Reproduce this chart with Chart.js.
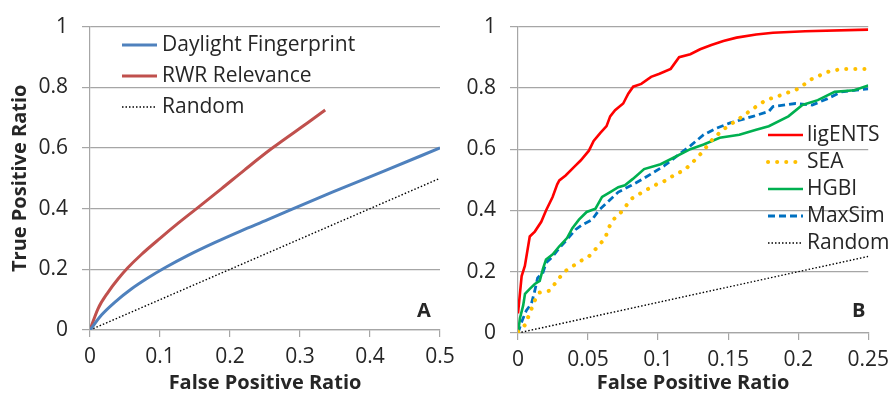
<!DOCTYPE html>
<html><head><meta charset="utf-8">
<script src="https://cdn.jsdelivr.net/npm/chart.js@4"></script>
<style>
html,body{margin:0;padding:0;background:#fff;}
#wrap{position:relative;width:896px;height:396px;overflow:hidden;background:#fff;}
#ca{position:absolute;left:0;top:0;}
#cb{position:absolute;left:450px;top:0;}
</style></head><body>
<div id="wrap">
<canvas id="ca" width="470" height="396"></canvas>
<canvas id="cb" width="446" height="396"></canvas>
</div>
<script>
// ---------- Panel A data ----------
const xTicksA = ['0', '0.1', '0.2', '0.3', '0.4', '0.5'];
const yTicks = ['0', '0.2', '0.4', '0.6', '0.8', '1'];
const daylightX = [0, 0.0167, 0.0357, 0.059, 0.083, 0.107, 0.14, 0.178, 0.216, 0.254, 0.283, 0.347, 0.419, 0.5];
const daylightY = [0, 0.05, 0.092, 0.135, 0.172, 0.205, 0.246, 0.288, 0.327, 0.364, 0.393, 0.455, 0.523, 0.6];
const rwrX = [0, 0.0114, 0.026, 0.04, 0.054, 0.073, 0.1, 0.126, 0.155, 0.188, 0.221, 0.2595, 0.314, 0.336];
const rwrY = [0, 0.07, 0.125, 0.168, 0.205, 0.248, 0.302, 0.352, 0.405, 0.466, 0.528, 0.598, 0.688, 0.725];
const randomAX = [0, 0.5];
const randomAY = [0, 0.5];

// ---------- Panel B data ----------
const xTicksB = ['0', '0.05', '0.1', '0.15', '0.2', '0.25'];
const ligX = [0, 0.0026, 0.0049, 0.0084, 0.012, 0.0166, 0.020, 0.0247, 0.028, 0.0295, 0.034, 0.041, 0.0447, 0.0506, 0.054, 0.0588, 0.0632, 0.0658, 0.0693, 0.0751, 0.0787, 0.0822, 0.088, 0.095, 0.101, 0.109, 0.115, 0.123, 0.130, 0.138, 0.1466, 0.156, 0.17, 0.182, 0.205, 0.25];
const ligY = [0.064, 0.186, 0.219, 0.315, 0.331, 0.363, 0.40, 0.444, 0.485, 0.498, 0.514, 0.546, 0.563, 0.595, 0.627, 0.653, 0.675, 0.707, 0.727, 0.749, 0.781, 0.804, 0.813, 0.836, 0.846, 0.862, 0.90, 0.91, 0.926, 0.94, 0.953, 0.964, 0.974, 0.98, 0.985, 0.99];
const seaX = [0, 0.005, 0.012, 0.0155, 0.0225, 0.0295, 0.034, 0.0447, 0.0506, 0.056, 0.0623, 0.0646, 0.068, 0.0728, 0.081, 0.090, 0.0997, 0.1067, 0.1124, 0.1185, 0.123, 0.128, 0.131, 0.135, 0.1395, 0.1477, 0.158, 0.170, 0.177, 0.1875, 0.200, 0.21, 0.221, 0.231, 0.25];
const seaY = [0.004, 0.026, 0.106, 0.132, 0.138, 0.18, 0.203, 0.235, 0.25, 0.277, 0.31, 0.342, 0.37, 0.39, 0.438, 0.463, 0.487, 0.50, 0.519, 0.53, 0.55, 0.572, 0.588, 0.61, 0.636, 0.668, 0.70, 0.739, 0.76, 0.776, 0.797, 0.83, 0.852, 0.862, 0.862];
const hgbiX = [0, 0.0014, 0.0037, 0.005, 0.0084, 0.012, 0.0155, 0.0178, 0.020, 0.0248, 0.0295, 0.035, 0.0388, 0.0435, 0.049, 0.0553, 0.06, 0.0658, 0.0716, 0.0763, 0.082, 0.090, 0.1018, 0.111, 0.123, 0.1325, 0.144, 0.158, 0.17, 0.179, 0.193, 0.203, 0.214, 0.226, 0.24, 0.25];
const hgbiY = [0, 0.048, 0.09, 0.128, 0.144, 0.16, 0.17, 0.209, 0.24, 0.257, 0.283, 0.31, 0.342, 0.37, 0.395, 0.406, 0.444, 0.46, 0.476, 0.482, 0.503, 0.535, 0.551, 0.572, 0.60, 0.615, 0.637, 0.647, 0.663, 0.675, 0.707, 0.744, 0.76, 0.787, 0.792, 0.808];
const maxX = [0, 0.0026, 0.006, 0.0096, 0.012, 0.014, 0.0178, 0.020, 0.0248, 0.0295, 0.035, 0.041, 0.0458, 0.0529, 0.0576, 0.0646, 0.0716, 0.081, 0.0892, 0.1045, 0.1138, 0.123, 0.1325, 0.142, 0.151, 0.1677, 0.179, 0.182, 0.198, 0.21, 0.221, 0.231, 0.25];
const maxY = [0, 0.036, 0.074, 0.096, 0.138, 0.18, 0.197, 0.229, 0.25, 0.277, 0.305, 0.337, 0.353, 0.37, 0.40, 0.43, 0.46, 0.482, 0.503, 0.546, 0.579, 0.611, 0.647, 0.669, 0.685, 0.707, 0.723, 0.739, 0.749, 0.744, 0.765, 0.787, 0.797];
const randomBX = [0, 0.25];
const randomBY = [0, 0.25];

const FONT = '"Open Sans"';
const TXT = '#262626';
const GRID = '#a6a6a6';
const pts = (xs, ys) => xs.map((x, i) => ({x: x, y: ys[i]}));

const legendPlugin = {
  id: 'customLegend',
  afterDraw(chart, args, o) {
    const ctx = chart.ctx;
    ctx.save();
    ctx.font = o.size + 'px ' + FONT;
    ctx.textBaseline = 'middle';
    ctx.textAlign = 'left';
    chart.data.datasets.forEach((ds, i) => {
      const y = o.y0 + i * o.dy;
      ctx.beginPath();
      ctx.strokeStyle = ds.borderColor;
      ctx.lineWidth = ds.borderWidth;
      ctx.setLineDash(ds.borderDash || []);
      ctx.lineCap = ds.borderCapStyle || 'butt';
      ctx.moveTo(o.x0, y); ctx.lineTo(o.x1, y); ctx.stroke();
      ctx.setLineDash([]);
      ctx.fillStyle = TXT;
      ctx.fillText(ds.label, o.tx, y);
    });
    ctx.font = 'bold 20px ' + FONT;
    ctx.fillStyle = TXT;
    ctx.fillText(o.letter, o.lx, o.ly);
    ctx.restore();
  }
};

function scales(xmin, xmax, step, xlabels, yW, showYTitle) {
  return {
    x: {
      type: 'linear', min: xmin, max: xmax,
      afterFit: s => { s.height = 66; },
      afterBuildTicks: s => { s.ticks = xlabels.map((l, i) => ({value: xmin + i * step})); },
      ticks: { callback: (v, i) => xlabels[i], font: {family: FONT, size: 21}, color: TXT, padding: 7, maxRotation: 0, autoSkip: false },
      grid: { drawOnChartArea: false, drawTicks: true, tickLength: 7, color: GRID, lineWidth: 1.2 },
      border: { display: true, color: GRID, width: 1.2 },
      title: { display: true, text: 'False Positive Ratio', font: {family: FONT, size: 20, weight: 'bold'}, color: TXT, padding: {top: 0, bottom: 1} }
    },
    y: {
      type: 'linear', min: 0, max: 1,
      afterFit: s => { s.width = yW; },
      afterBuildTicks: s => { s.ticks = yTicks.map((l, i) => ({value: i * 0.2})); },
      ticks: { callback: (v, i) => yTicks[i], font: {family: FONT, size: 21}, color: TXT, padding: 14 },
      grid: { drawOnChartArea: true, drawTicks: true, tickLength: 8, color: GRID, lineWidth: 1.2 },
      border: { display: true, color: GRID, width: 1.2 },
      title: { display: showYTitle, text: 'True Positive Ratio', font: {family: FONT, size: 20, weight: 'bold'}, color: TXT, padding: {top: 8, bottom: 0} }
    }
  };
}

const common = {
  responsive: false, animation: false,
  plugins: { legend: {display: false}, tooltip: {enabled: false} },
  elements: { point: {radius: 0} }
};

new Chart(document.getElementById('ca'), {
  type: 'scatter',
  data: { datasets: [
    { label: 'Daylight Fingerprint', data: pts(daylightX, daylightY), showLine: true, borderColor: '#4f81bd', borderWidth: 3, cubicInterpolationMode: 'monotone', pointRadius: 0 },
    { label: 'RWR Relevance', data: pts(rwrX, rwrY), showLine: true, borderColor: '#c0504d', borderWidth: 3, cubicInterpolationMode: 'monotone', pointRadius: 0 },
    { label: 'Random', data: pts(randomAX, randomAY), showLine: true, borderColor: '#000000', borderWidth: 1.4, borderDash: [1.5, 2], pointRadius: 0 }
  ]},
  options: Object.assign({}, common, {
    layout: { padding: {top: 24, right: 30, bottom: 0, left: 0} },
    scales: scales(0, 0.5, 0.1, xTicksA, 90, true),
    plugins: Object.assign({}, common.plugins, {
      customLegend: { size: 21, x0: 122, x1: 157, tx: 162, y0: 45, dy: 31, letter: 'A', lx: 417, ly: 311 }
    })
  }),
  plugins: [legendPlugin]
});

new Chart(document.getElementById('cb'), {
  type: 'scatter',
  data: { datasets: [
    { label: 'ligENTS', data: pts(ligX, ligY), showLine: true, borderColor: '#ff0000', borderWidth: 2.6, pointRadius: 0 },
    { label: 'SEA', data: pts(seaX, seaY), showLine: true, borderColor: '#ffc000', borderWidth: 4, borderDash: [0.1, 9], borderCapStyle: 'round', pointRadius: 0 },
    { label: 'HGBI', data: pts(hgbiX, hgbiY), showLine: true, borderColor: '#00b050', borderWidth: 2.6, pointRadius: 0 },
    { label: 'MaxSim', data: pts(maxX, maxY), showLine: true, borderColor: '#0070c0', borderWidth: 2.8, borderDash: [7, 4], pointRadius: 0 },
    { label: 'Random', data: pts(randomBX, randomBY), showLine: true, borderColor: '#000000', borderWidth: 1.4, borderDash: [1.5, 2], pointRadius: 0 }
  ]},
  options: Object.assign({}, common, {
    layout: { padding: {top: 22, right: 22, bottom: 0, left: 0} },
    scales: (() => { const s = scales(0, 0.25, 0.05, xTicksB, 68, false); s.x.afterFit = sc => { sc.height = 63; }; return s; })(),
    plugins: Object.assign({}, common.plugins, {
      customLegend: { size: 21, x0: 318, x1: 353, tx: 357, y0: 135, dy: 27, letter: 'B', lx: 402, ly: 311 }
    })
  }),
  plugins: [legendPlugin]
});
</script>
</body></html>
